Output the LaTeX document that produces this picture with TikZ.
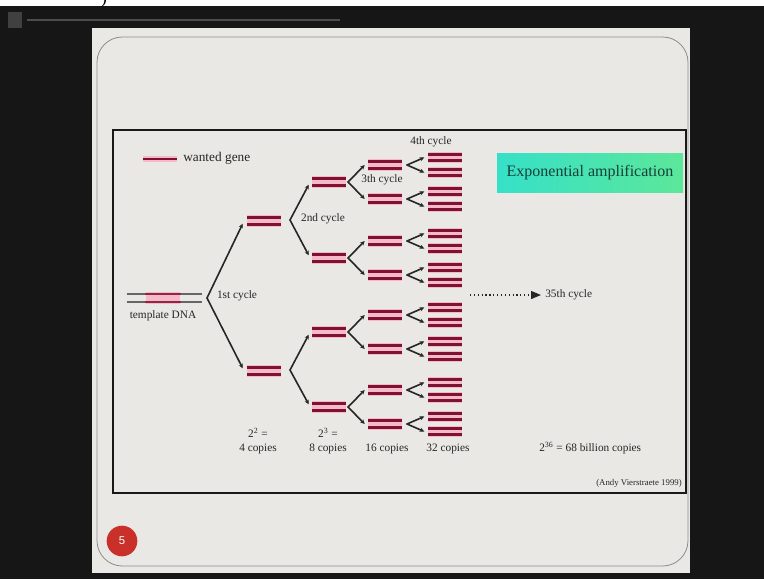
\documentclass[tikz,border=0pt]{standalone}
\usepackage{fontspec}
\setmainfont{Liberation Serif}
\newfontfamily\badgefont{Liberation Sans}
\usetikzlibrary{arrows.meta}

\definecolor{screen}{HTML}{161616}
\definecolor{slidebg}{HTML}{EAE8E5}
\definecolor{genered}{HTML}{7E1232}
\definecolor{genepink}{HTML}{F6B9C8}
\definecolor{dnagrey}{HTML}{666666}
\definecolor{inkdark}{HTML}{262626}
\definecolor{boxleft}{HTML}{36E0C8}
\definecolor{boxright}{HTML}{5CE79A}
\definecolor{boxtext}{HTML}{153F38}
\definecolor{badge}{HTML}{C9302A}

\tikzset{
  % one double-stranded copy of the gene
  gene/.style={minimum width=25.5pt, minimum height=8.6pt, inner sep=0pt,
    fill=genepink, path picture={
      \draw[genered, line width=1.9pt]
        ([yshift=2.5pt]path picture bounding box.west) -- ([yshift=2.5pt]path picture bounding box.east)
        ([yshift=-2.5pt]path picture bounding box.west) -- ([yshift=-2.5pt]path picture bounding box.east);
    }},
  genesmall/.style={gene, minimum height=7.6pt, path picture={
      \draw[genered, line width=1.8pt]
        ([yshift=2.2pt]path picture bounding box.west) -- ([yshift=2.2pt]path picture bounding box.east)
        ([yshift=-2.2pt]path picture bounding box.west) -- ([yshift=-2.2pt]path picture bounding box.east);
    }},
  legendline/.style={minimum width=25.5pt, minimum height=4.2pt, inner sep=0pt,
    fill=genepink, path picture={
      \draw[genered, line width=2pt]
        (path picture bounding box.west) -- (path picture bounding box.east);
    }},
  strand/.style={dnagrey, line width=1.2pt},
  strandgene/.style={genered!90, line width=1.7pt},
  branch/.style={draw=inkdark, line width=1.2pt, line cap=round,
    -{Stealth[length=3.4pt,width=3.2pt]}},
  lbl/.style={inner sep=0pt, text=inkdark, font=\fontsize{8.5}{10}\selectfont},
  expbox/.style={minimum width=139.5pt, minimum height=29.25pt, inner sep=0pt,
    left color=boxleft, right color=boxright, text=boxtext,
    font=\fontsize{12}{14}\selectfont},
}

\begin{document}
\begin{tikzpicture}[x=0.75pt, y=-0.75pt]
  \useasboundingbox (0,0) rectangle (764,579);

  % screen around the slide
  \fill[screen] (0,0) rectangle (764,579);
  \fill[white] (0,0) rectangle (764,6);
  \begin{scope}
    \clip (0,0) rectangle (764,6);
    \node[inner sep=0pt, font=\fontsize{14}{16}\selectfont] (brk) at (104,-1) {)};
  \end{scope}
  \fill[black!75] (8,12) rectangle (22,28);
  \draw[black!70, line width=1.2pt] (27,20) -- (340,20);

  % slide page and its rounded border
  \fill[slidebg] (92,28) rectangle (690,573);
  \draw[black!45, line width=0.6pt, rounded corners=19pt] (97,37) rectangle (688,566);

  % figure frame
  \draw[black!90, line width=1.6pt] (113,130) rectangle (686,493);

  % legend
  \node[legendline] (leg) at (160,159) {};
  \node[lbl, anchor=west, font=\fontsize{10}{12}\selectfont] (legtxt) at (183,158) {wanted gene};

  % template DNA: two grey strands, gene region marked in the middle
  \node[minimum width=56.25pt, minimum height=10.5pt, inner sep=0pt] (tpl) at (164.5,298) {};
  \node[minimum width=26.2pt, minimum height=9.2pt, inner sep=0pt, fill=genepink] (tplgene) at (163,298) {};
  \draw[strand] ([yshift=2.8pt]tpl.west) -- ([yshift=2.8pt]tpl.east);
  \draw[strand] ([yshift=-2.8pt]tpl.west) -- ([yshift=-2.8pt]tpl.east);
  \draw[strandgene] ([yshift=2.8pt]tplgene.west) -- ([yshift=2.8pt]tplgene.east);
  \draw[strandgene] ([yshift=-2.8pt]tplgene.west) -- ([yshift=-2.8pt]tplgene.east);
  \node[lbl] (tpltxt) at (163,316) {template DNA};

  % first cycle
  \coordinate (v1) at (207,298);
  \node[gene] (g1) at (264,221) {};
  \node[gene] (g2) at (264,371) {};
  \draw[branch] (v1) -- ([xshift=-3pt,yshift=-2pt]g1.west);
  \draw[branch] (v1) -- ([xshift=-3pt,yshift=2pt]g2.west);
  \node[lbl] (c1) at (237,296) {1st cycle};

  % second cycle
  \coordinate (v2a) at (290,220);
  \coordinate (v2b) at (290,370);
  \node[gene] (m1) at (329,182) {};
  \node[gene] (m2) at (329,258) {};
  \node[gene] (m3) at (329,332) {};
  \node[gene] (m4) at (329,407) {};
  \draw[branch] (v2a) -- ([xshift=-2.25pt,yshift=-2pt]m1.west);
  \draw[branch] (v2a) -- ([xshift=-2.25pt,yshift=2pt]m2.west);
  \draw[branch] (v2b) -- ([xshift=-2.25pt,yshift=-2pt]m3.west);
  \draw[branch] (v2b) -- ([xshift=-2.25pt,yshift=2pt]m4.west);
  \node[lbl] (c2) at (323,219) {2nd cycle};

  % third cycle
  \foreach \py [count=\i] in {182,258,332,407} {
    \coordinate (w\i) at (348,\py);
    \node[gene] (p\i-u) at (385,\py-17) {};
    \node[gene] (p\i-d) at (385,\py+17) {};
    \draw[branch] (w\i) -- ([xshift=-2.25pt]p\i-u.west);
    \draw[branch] (w\i) -- ([xshift=-2.25pt]p\i-d.west);
  }
  \node[lbl] (c3) at (382,180) {3th cycle};

  % fourth cycle
  \foreach \py [count=\i] in {165,199,241,275,315,349,390,424} {
    \coordinate (z\i) at (407,\py);
    \node[genesmall] (q\i-u) at (445,\py-7.5) {};
    \node[genesmall] (q\i-d) at (445,\py+7.5) {};
    \draw[branch] (z\i) -- ([xshift=-2.6pt]q\i-u.west);
    \draw[branch] (z\i) -- ([xshift=-2.6pt]q\i-d.west);
  }
  \node[lbl] (c4) at (431,142) {4th cycle};

  % copy counts
  \node[lbl] (e4) at (258,433) {2\textsuperscript{2} =};
  \node[lbl] (n4) at (258,449) {4 copies};
  \node[lbl] (e8) at (328,433) {2\textsuperscript{3} =};
  \node[lbl] (n8) at (328,449) {8 copies};
  \node[lbl] (n16) at (387,449) {16 copies};
  \node[lbl] (n32) at (448,449) {32 copies};

  % towards the 35th cycle
  \coordinate (dots) at (470,295);
  \node[lbl, anchor=west] (c35) at (545,295) {35th cycle};
  \draw[inkdark, line width=0.9pt, dotted, shorten >=3pt,
        -{Triangle[length=7.5pt,width=6pt]}] (dots) -- (c35.west);
  \node[lbl, anchor=west] (n36) at (539,448) {2\textsuperscript{36} = 68 billion copies};

  % heading box and credit
  \node[expbox] (amp) at (590,172.5) {Exponential amplification};
  \node[lbl, anchor=east, font=\fontsize{6.6}{8}\selectfont] (credit) at (682,483) {(Andy Vierstraete 1999)};

  % slide number
  \node[circle, fill=badge, minimum size=23pt, inner sep=0pt, text=white,
        font=\badgefont\fontsize{8.5}{10}\selectfont] (num) at (122,541) {5};
\end{tikzpicture}
\end{document}
